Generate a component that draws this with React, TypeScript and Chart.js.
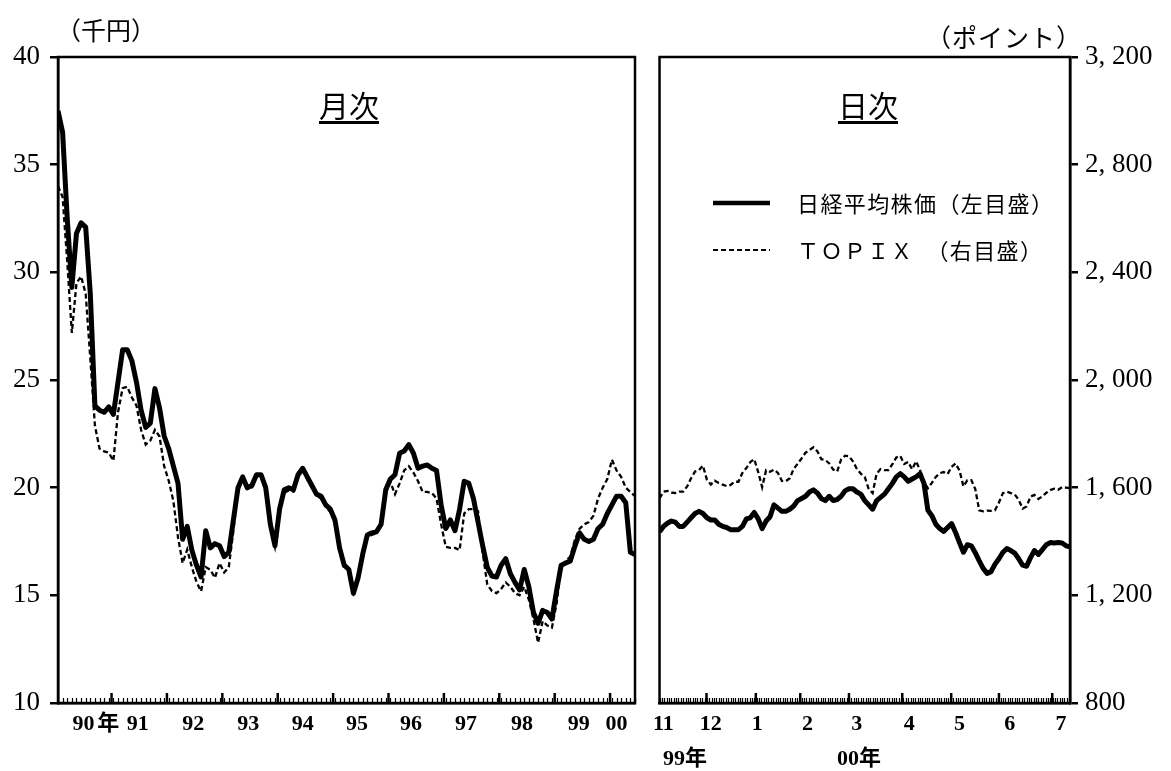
import React, { useEffect, useRef } from 'react';
import { Chart, registerables } from 'chart.js';

Chart.register(...registerables);

const NUM_FONT = "'Liberation Serif', 'Noto Sans CJK JP', serif";
const JP_FONT = "'Noto Sans CJK JP', sans-serif";

// ---- Monthly panel (Jan 1990 - Jun 2000) ----
// 日経平均株価 (千円)
const MONTHLY_NIKKEI: number[] = [
  37.5, 36.5, 32.5, 29.3, 31.8, 32.3, 32.1, 29.0, 23.8, 23.6, 23.5, 23.75,
  23.4, 24.9, 26.4, 26.4, 25.9, 24.9, 23.6, 22.8, 23.0, 24.6, 23.7, 22.4,
  21.8, 21.0, 20.2, 17.6, 18.2, 17.1, 16.4, 15.85, 18.0, 17.2, 17.4, 17.3,
  16.8, 17.0, 18.5, 20.0, 20.5, 20.0, 20.1, 20.6, 20.6, 20.0, 18.3, 17.3,
  19.0, 19.9, 20.0, 19.9, 20.6, 20.9, 20.5, 20.1, 19.7, 19.6, 19.2, 19.0,
  18.5, 17.2, 16.4, 16.2, 15.1, 15.8, 16.9, 17.8, 17.9, 17.95, 18.3, 19.9,
  20.4, 20.6, 21.6, 21.7, 22.0, 21.6, 20.9, 21.0, 21.05, 20.9, 20.8, 19.2,
  18.1, 18.5, 18.0, 19.0, 20.3, 20.2, 19.5, 18.4, 17.3, 16.3, 15.9, 15.85,
  16.4, 16.7, 16.0, 15.6, 15.25, 16.2, 15.4, 14.2, 13.7, 14.3, 14.2, 13.9,
  15.2, 16.4, 16.5, 16.6, 17.3, 17.9, 17.6, 17.5, 17.6, 18.1, 18.3, 18.8,
  19.2, 19.6, 19.6, 19.3, 17.0, 16.9,
];
// TOPIX (ポイント)
const MONTHLY_TOPIX: number[] = [
  2720, 2680, 2440, 2175, 2360, 2385, 2320, 2080, 1830, 1745, 1735, 1730,
  1700, 1880, 1970, 1975, 1935, 1905, 1815, 1760, 1775, 1815, 1790, 1680,
  1625, 1550, 1415, 1320, 1370, 1305, 1250, 1215, 1305, 1295, 1265, 1320,
  1285, 1305, 1440, 1590, 1630, 1595, 1600, 1640, 1640, 1590, 1450, 1380,
  1510, 1580, 1590, 1585, 1640, 1665, 1630, 1600, 1570, 1560, 1530, 1510,
  1470, 1370, 1300, 1300, 1210, 1265, 1340, 1415, 1425, 1430, 1460, 1580,
  1620, 1576, 1616, 1664, 1680, 1656, 1624, 1584, 1584, 1580, 1560, 1464,
  1380, 1376, 1376, 1368, 1504, 1520, 1520, 1512, 1360, 1240, 1216, 1208,
  1224, 1248, 1232, 1208, 1200, 1232, 1184, 1112, 1024, 1104, 1088, 1080,
  1168, 1304, 1328, 1344, 1408, 1448, 1464, 1472, 1496, 1560, 1600, 1632,
  1704, 1664, 1640, 1600, 1584, 1568,
];
const YEAR_TICK_LABELS = ['90', '年', '91', '92', '93', '94', '95', '96', '97', '98', '99', '00'];
const YEAR_TICK_POS = [5.5, 10.9, 17.3, 29.3, 41.2, 53.0, 64.8, 76.5, 88.4, 100.5, 112.8, 121.0];
const YEAR_STARTS = [11.6, 23.6, 35.6, 47.6, 59.6, 71.6, 83.6, 95.6, 107.6, 119.6];

// ---- Daily panel (Nov 1999 - Jul 2000) ----
const DAILY_NIKKEI: number[] = [
  17.95, 18.2, 18.35, 18.45, 18.4, 18.2, 18.2, 18.4, 18.6, 18.8,
  18.9, 18.8, 18.6, 18.5, 18.5, 18.3, 18.2, 18.15, 18.05, 18.05,
  18.05, 18.2, 18.55, 18.6, 18.85, 18.55, 18.1, 18.45, 18.65, 19.2,
  19.05, 18.9, 18.9, 19.0, 19.15, 19.4, 19.5, 19.6, 19.8, 19.9,
  19.75, 19.5, 19.4, 19.6, 19.4, 19.45, 19.6, 19.85, 19.95, 19.95,
  19.8, 19.7, 19.4, 19.2, 19.0, 19.4, 19.55, 19.7, 19.95, 20.2,
  20.5, 20.65, 20.5, 20.3, 20.4, 20.5, 20.65, 20.2, 18.95, 18.7,
  18.3, 18.1, 17.97, 18.15, 18.33, 17.92, 17.45, 17.0, 17.35, 17.3,
  16.98, 16.6, 16.25, 16.02, 16.1, 16.45, 16.7, 17.0, 17.17, 17.08,
  16.96, 16.7, 16.4, 16.35, 16.75, 17.08, 16.9, 17.12, 17.35, 17.45,
  17.43, 17.45, 17.43, 17.3, 17.25,
];
const DAILY_TOPIX: number[] = [
  1560, 1585, 1588, 1582, 1580, 1585, 1585, 1605, 1635, 1660,
  1665, 1682, 1630, 1612, 1626, 1617, 1611, 1606, 1610, 1622,
  1622, 1655, 1673, 1695, 1706, 1658, 1602, 1665, 1659, 1667,
  1655, 1625, 1624, 1635, 1670, 1689, 1709, 1730, 1740, 1750,
  1735, 1706, 1703, 1690, 1667, 1660, 1704, 1719, 1717, 1698,
  1670, 1652, 1640, 1595, 1580, 1652, 1669, 1665, 1665, 1687,
  1712, 1718, 1688, 1696, 1668, 1698, 1665, 1620, 1598, 1618,
  1640, 1654, 1658, 1651, 1677, 1690, 1664, 1605, 1628, 1628,
  1595, 1516, 1512, 1515, 1514, 1516, 1545, 1580, 1585, 1580,
  1575, 1555, 1522, 1530, 1567, 1573, 1558, 1568, 1581, 1591,
  1596, 1592, 1602, 1600, 1598,
];
const MONTH_TICK_LABELS = ['11', '12', '1', '2', '3', '4', '5', '6', '7'];
const MONTH_TICK_POS = [1, 13, 24.75, 37.5, 50, 63.25, 76, 88.75, 101.75];
const MONTH_STARTS = [11.9, 24.4, 35.65, 48, 61.5, 73.9, 86, 99.5];
const DAY_TICK_STEP = 0.6;

const LEFT_TICKS = [10, 15, 20, 25, 30, 35, 40];
const RIGHT_TICKS = [800, 1200, 1600, 2000, 2400, 2800, 3200];

function framePlugin(minorStep: number, majors: number[]) {
  return {
    id: 'frameTicks',
    afterDraw(chart: any) {
      const { ctx, chartArea } = chart;
      const xs = chart.scales.x;
      ctx.save();
      ctx.strokeStyle = '#000';
      ctx.lineWidth = 1.2;
      for (let v = xs.min; v <= xs.max + 1e-6; v += minorStep) {
        const px = Math.round(xs.getPixelForValue(v)) + 0.5;
        ctx.beginPath();
        ctx.moveTo(px, chartArea.bottom);
        ctx.lineTo(px, chartArea.bottom - 5);
        ctx.stroke();
      }
      ctx.lineWidth = 2.5;
      majors.forEach((v) => {
        const px = xs.getPixelForValue(v);
        ctx.beginPath();
        ctx.moveTo(px, chartArea.bottom);
        ctx.lineTo(px, chartArea.bottom - 10);
        ctx.stroke();
      });
      ctx.lineWidth = 2.5;
      ctx.strokeRect(chartArea.left, chartArea.top, chartArea.right - chartArea.left, chartArea.bottom - chartArea.top);
      ctx.restore();
    },
  };
}

function fmtPoint(v: number): string {
  if (v >= 1000) {
    return `${Math.floor(v / 1000)}, ${String(v % 1000).padStart(3, '0')}`;
  }
  return String(v);
}

export default function App() {
  const leftRef = useRef<HTMLCanvasElement | null>(null);
  const rightRef = useRef<HTMLCanvasElement | null>(null);

  useEffect(() => {
    const left = new Chart(leftRef.current as HTMLCanvasElement, {
      type: 'line',
      data: {
        datasets: [
          {
            label: '日経平均株価',
            data: MONTHLY_NIKKEI.map((v, i) => ({ x: i, y: v })),
            yAxisID: 'y',
            borderColor: '#000',
            borderWidth: 5,
            pointRadius: 0,
            tension: 0,
            borderJoinStyle: 'round',
            order: 0,
          },
          {
            label: 'TOPIX',
            data: MONTHLY_TOPIX.map((v, i) => ({ x: i, y: v })),
            yAxisID: 'yT',
            borderColor: '#000',
            borderWidth: 2.3,
            borderDash: [5, 3],
            pointRadius: 0,
            tension: 0,
            order: 1,
          },
        ],
      },
      options: {
        responsive: false,
        animation: false,
        events: [],
        layout: { padding: { top: 57, right: 10, bottom: 0, left: 0 } },
        plugins: { legend: { display: false }, tooltip: { enabled: false } },
        scales: {
          x: {
            type: 'linear',
            min: 0,
            max: MONTHLY_NIKKEI.length - 1,
            afterBuildTicks: (s: any) => {
              s.ticks = YEAR_TICK_POS.map((v) => ({ value: v }));
            },
            afterFit: (s: any) => {
              s.height = 68;
            },
            ticks: {
              autoSkip: false,
              maxRotation: 0,
              padding: 8,
              color: '#000',
              font: { family: NUM_FONT, size: 22, weight: 'bold' },
              callback: (_v: any, i: number) => YEAR_TICK_LABELS[i],
            },
            grid: { display: true, drawOnChartArea: false, drawTicks: false, color: '#000' },
            border: { display: true, color: '#000', width: 2.5 },
          },
          y: {
            position: 'left',
            min: 10,
            max: 40,
            afterBuildTicks: (s: any) => {
              s.ticks = LEFT_TICKS.map((v) => ({ value: v }));
            },
            afterFit: (s: any) => {
              s.width = 58;
            },
            ticks: {
              padding: 10,
              color: '#000',
              font: { family: NUM_FONT, size: 27 },
            },
            grid: { display: true, drawOnChartArea: false, drawTicks: true, tickLength: 8, color: '#000', lineWidth: 2.5 },
            border: { display: true, color: '#000', width: 2.5 },
          },
          yT: { display: false, min: 800, max: 3200 },
        },
      },
      plugins: [framePlugin(1, YEAR_STARTS)],
    } as any);

    const right = new Chart(rightRef.current as HTMLCanvasElement, {
      type: 'line',
      data: {
        datasets: [
          {
            label: '日経平均株価',
            data: DAILY_NIKKEI.map((v, i) => ({ x: i, y: v })),
            yAxisID: 'yL',
            borderColor: '#000',
            borderWidth: 5,
            pointRadius: 0,
            tension: 0,
            borderJoinStyle: 'round',
            order: 0,
          },
          {
            label: 'TOPIX',
            data: DAILY_TOPIX.map((v, i) => ({ x: i, y: v })),
            yAxisID: 'y',
            borderColor: '#000',
            borderWidth: 2.3,
            borderDash: [5, 3],
            pointRadius: 0,
            tension: 0,
            order: 1,
          },
        ],
      },
      options: {
        responsive: false,
        animation: false,
        events: [],
        layout: { padding: { top: 57, right: 0, bottom: 0, left: 8 } },
        plugins: { legend: { display: false }, tooltip: { enabled: false } },
        scales: {
          x: {
            type: 'linear',
            min: 0,
            max: DAILY_NIKKEI.length - 1,
            afterBuildTicks: (s: any) => {
              s.ticks = MONTH_TICK_POS.map((v) => ({ value: v }));
            },
            afterFit: (s: any) => {
              s.height = 68;
            },
            ticks: {
              autoSkip: false,
              maxRotation: 0,
              padding: 8,
              color: '#000',
              font: { family: NUM_FONT, size: 22, weight: 'bold' },
              callback: (_v: any, i: number) => MONTH_TICK_LABELS[i],
            },
            grid: { display: true, drawOnChartArea: false, drawTicks: false, color: '#000' },
            border: { display: true, color: '#000', width: 2.5 },
          },
          y: {
            position: 'right',
            min: 800,
            max: 3200,
            afterBuildTicks: (s: any) => {
              s.ticks = RIGHT_TICKS.map((v) => ({ value: v }));
            },
            afterFit: (s: any) => {
              s.width = 101;
            },
            ticks: {
              padding: 7,
              color: '#000',
              font: { family: NUM_FONT, size: 27 },
              callback: (v: any) => fmtPoint(Number(v)),
            },
            grid: { display: true, drawOnChartArea: false, drawTicks: true, tickLength: 8, color: '#000', lineWidth: 2.5 },
            border: { display: true, color: '#000', width: 2.5 },
          },
          yL: { display: false, min: 10, max: 40 },
        },
      },
      plugins: [framePlugin(DAY_TICK_STEP, MONTH_STARTS)],
    } as any);

    return () => {
      left.destroy();
      right.destroy();
    };
  }, []);

  const abs = (l: number, t: number, extra: React.CSSProperties = {}): React.CSSProperties => ({
    position: 'absolute',
    left: l,
    top: t,
    whiteSpace: 'nowrap',
    lineHeight: 1,
    color: '#000',
    ...extra,
  });

  return (
    <div style={{ position: 'absolute', left: 0, top: 0, width: 1171, height: 771, background: '#fff', overflow: 'hidden' }}>
      <canvas ref={leftRef} width={645} height={771} style={{ position: 'absolute', left: 0, top: 0, width: 645, height: 771 }} />
      <canvas ref={rightRef} width={526} height={771} style={{ position: 'absolute', left: 645, top: 0, width: 526, height: 771 }} />

      <div style={abs(56, 17, { fontFamily: JP_FONT, fontSize: 25 })}>（千円）</div>
      <div style={abs(926, 24, { fontFamily: JP_FONT, fontSize: 25, letterSpacing: 1 })}>（ポイント）</div>

      <div style={abs(319, 89, { fontFamily: JP_FONT, fontSize: 30, textDecoration: 'underline', textUnderlineOffset: 4 })}>月次</div>
      <div style={abs(838, 89, { fontFamily: JP_FONT, fontSize: 30, textDecoration: 'underline', textUnderlineOffset: 4 })}>日次</div>

      <svg style={{ position: 'absolute', left: 0, top: 0 }} width={1171} height={771}>
        <line x1={713} y1={203} x2={770} y2={203} stroke="#000" strokeWidth={4.5} />
        <line x1={713} y1={250} x2={770} y2={250} stroke="#000" strokeWidth={2} strokeDasharray="5 3" />
      </svg>
      <div style={abs(797, 191, { fontFamily: JP_FONT, fontSize: 22, letterSpacing: 1.4 })}>日経平均株価（左目盛）</div>
      <div style={abs(797, 238, { fontFamily: JP_FONT, fontSize: 22, letterSpacing: 1.4 })}>ＴＯＰＩＸ　（右目盛）</div>

      <div style={abs(663, 747, { fontFamily: NUM_FONT, fontSize: 22, fontWeight: 'bold' })}>99年</div>
      <div style={abs(837, 747, { fontFamily: NUM_FONT, fontSize: 22, fontWeight: 'bold' })}>00年</div>
    </div>
  );
}
